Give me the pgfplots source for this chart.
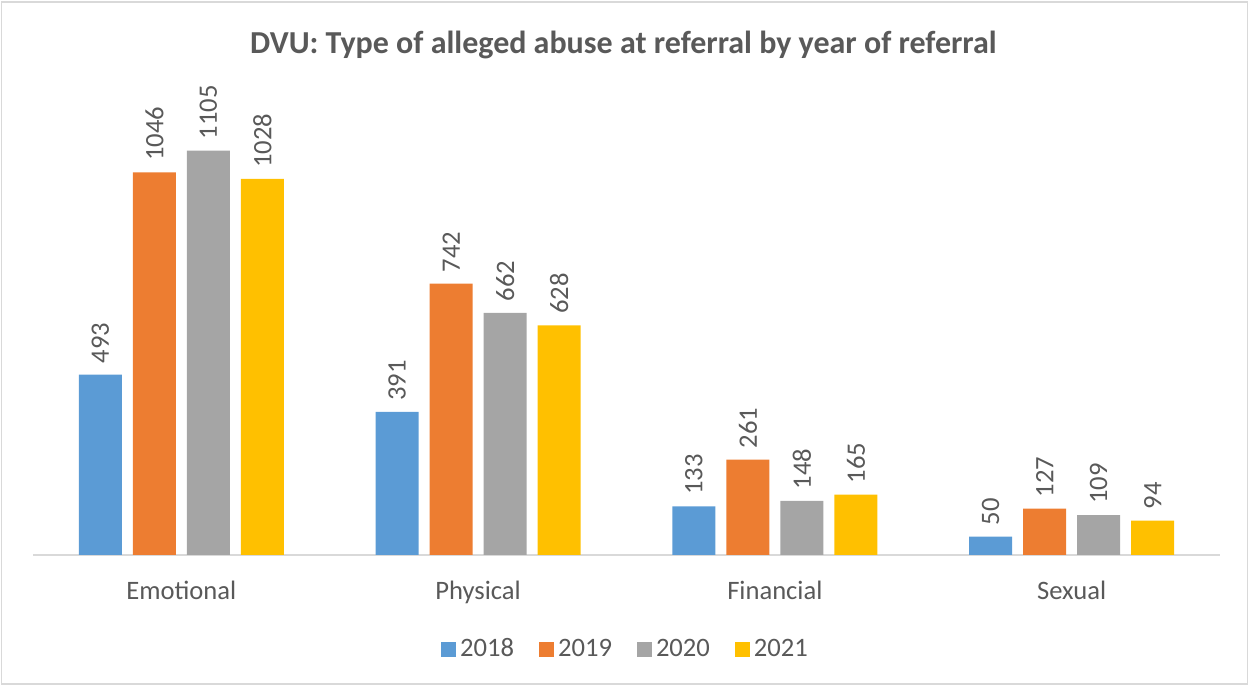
\documentclass[border=0pt]{standalone}
\usepackage{pgfplots}
\pgfplotsset{compat=1.18}
\usepackage{fontspec}
\setmainfont{Carlito}
\definecolor{c18}{HTML}{5B9BD5}
\definecolor{c19}{HTML}{ED7D31}
\definecolor{c20}{HTML}{A5A5A5}
\definecolor{c21}{HTML}{FFC000}
\definecolor{txt}{HTML}{595959}
\definecolor{frame}{HTML}{D9D9D9}
\begin{document}
\begin{tikzpicture}
\useasboundingbox (0,0) rectangle (624.5pt,342.5pt);
\draw[frame, line width=0.75pt] (0.8pt,0.5pt) rectangle (623.7pt,341.5pt);
\node[txt, font=\bfseries\fontsize{16}{18}\selectfont] at (311.75pt,320pt) {DVU: Type of alleged abuse at referral by year of referral};
\begin{axis}[
  at={(16.5pt,65pt)}, anchor=south west,
  scale only axis, width=593.5pt, height=219.5pt,
  ybar=5.5pt, bar width=21.5pt,
  xmin=-0.5, xmax=3.5, ymin=0, ymax=1200,
  axis x line*=bottom, axis y line=none,
  x axis line style={frame, line width=0.75pt, -},
  xtick=data, xticklabels={Emotional,Physical,Financial,Sexual},
  major tick length=0pt,
  xticklabel style={txt, font=\fontsize{13.3}{15}\selectfont, yshift=-9.5pt},
  ytick=\empty,
  /pgf/number format/assume math mode=true,
  /pgf/number format/1000 sep={},
  nodes near coords,
  every node near coord/.append style={txt, font=\fontsize{13.3}{15}\selectfont, rotate=90, anchor=west, inner xsep=5.5pt, inner ysep=2pt},
  legend style={at={(0.5,-0.2142)}, anchor=center, draw=none, legend columns=-1, font=\fontsize{13.3}{15}\selectfont\color{txt}, /tikz/every even column/.append style={column sep=10.5pt}},
  legend image code/.code={\fill[#1] (0pt,-3.75pt) rectangle (7.5pt,3.75pt);},
]
\addplot[draw=none, fill=c18] coordinates {(0,493) (1,391) (2,133) (3,50)};
\addplot[draw=none, fill=c19] coordinates {(0,1046) (1,742) (2,261) (3,127)};
\addplot[draw=none, fill=c20] coordinates {(0,1105) (1,662) (2,148) (3,109)};
\addplot[draw=none, fill=c21] coordinates {(0,1028) (1,628) (2,165) (3,94)};
\legend{2018,2019,2020,2021}
\end{axis}
\end{tikzpicture}
\end{document}
